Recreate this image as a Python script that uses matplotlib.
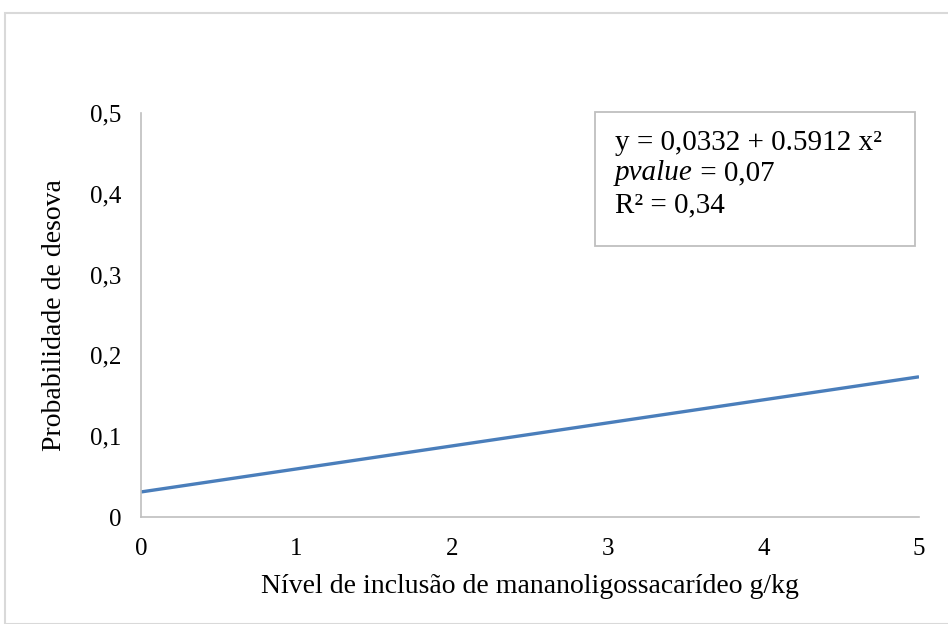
import matplotlib
matplotlib.use("Agg")
import matplotlib.pyplot as plt
from matplotlib.patches import Rectangle

# Fitted spawning probability by MOS inclusion level
nivel = [0, 1, 2, 3, 4, 5]
probabilidade = [0.031, 0.0595, 0.088, 0.1165, 0.145, 0.1735]
y_ticks = [0, 0.1, 0.2, 0.3, 0.4, 0.5]
y_tick_labels = ["0", "0,1", "0,2", "0,3", "0,4", "0,5"]
x_ticks = [0, 1, 2, 3, 4, 5]

plt.rcParams["font.family"] = ["Liberation Serif", "DejaVu Serif"]

W, H = 948, 624
fig = plt.figure(figsize=(W / 100, H / 100), dpi=100)

# chart area frame
fig.patches.append(Rectangle((5 / W, 0), 1.2, 1 - 13 / H, transform=fig.transFigure,
                             fill=False, edgecolor="#D9D9D9", linewidth=1.5))

left, right, top, bottom = 141, 919, 113, 517
ax = fig.add_axes([left / W, 1 - bottom / H, (right - left) / W, (bottom - top) / H])
ax.plot(nivel, probabilidade, color="#4A7EBB", linewidth=2.4, solid_capstyle="butt")

ax.set_xlim(0, 5)
ax.set_ylim(0, 0.5)
ax.set_yticks(y_ticks)
ax.set_yticklabels(y_tick_labels)
ax.set_xticks(x_ticks)
for s in ["top", "right"]:
    ax.spines[s].set_visible(False)
for s in ["left", "bottom"]:
    ax.spines[s].set_color("#BFBFBF")
    ax.spines[s].set_linewidth(1.2)
ax.tick_params(axis="both", length=0, labelsize=18, colors="black")
ax.tick_params(axis="y", pad=14)
ax.tick_params(axis="x", pad=15)

ax.set_xlabel("Nível de inclusão de mananoligossacarídeo g/kg", fontsize=20, labelpad=10)
ax.set_ylabel("Probabilidade de desova", fontsize=20, labelpad=17)

# equation box
bx0, by0, bx1, by1 = 595, 112, 915, 246
fig.patches.append(Rectangle((bx0 / W, 1 - by1 / H), (bx1 - bx0) / W, (by1 - by0) / H,
                             transform=fig.transFigure, fill=False,
                             edgecolor="#BFBFBF", linewidth=1.3))
tx = 615 / W
fs_box = 21
fig.text(tx, 1 - 143 / H, "y = 0,0332 + 0.5912 x²", fontsize=fs_box, va="center")
pv = fig.text(tx, 1 - 173 / H, "pvalue", fontsize=fs_box, va="center", style="italic")
fig.canvas.draw()
bb = pv.get_window_extent(renderer=fig.canvas.get_renderer())
fig.text(bb.x1 / W, 1 - 173 / H, " = 0,07", fontsize=fs_box, va="center")
fig.text(tx, 1 - 205 / H, "R² = 0,34", fontsize=fs_box, va="center")

fig.savefig("out.png", dpi=100)
